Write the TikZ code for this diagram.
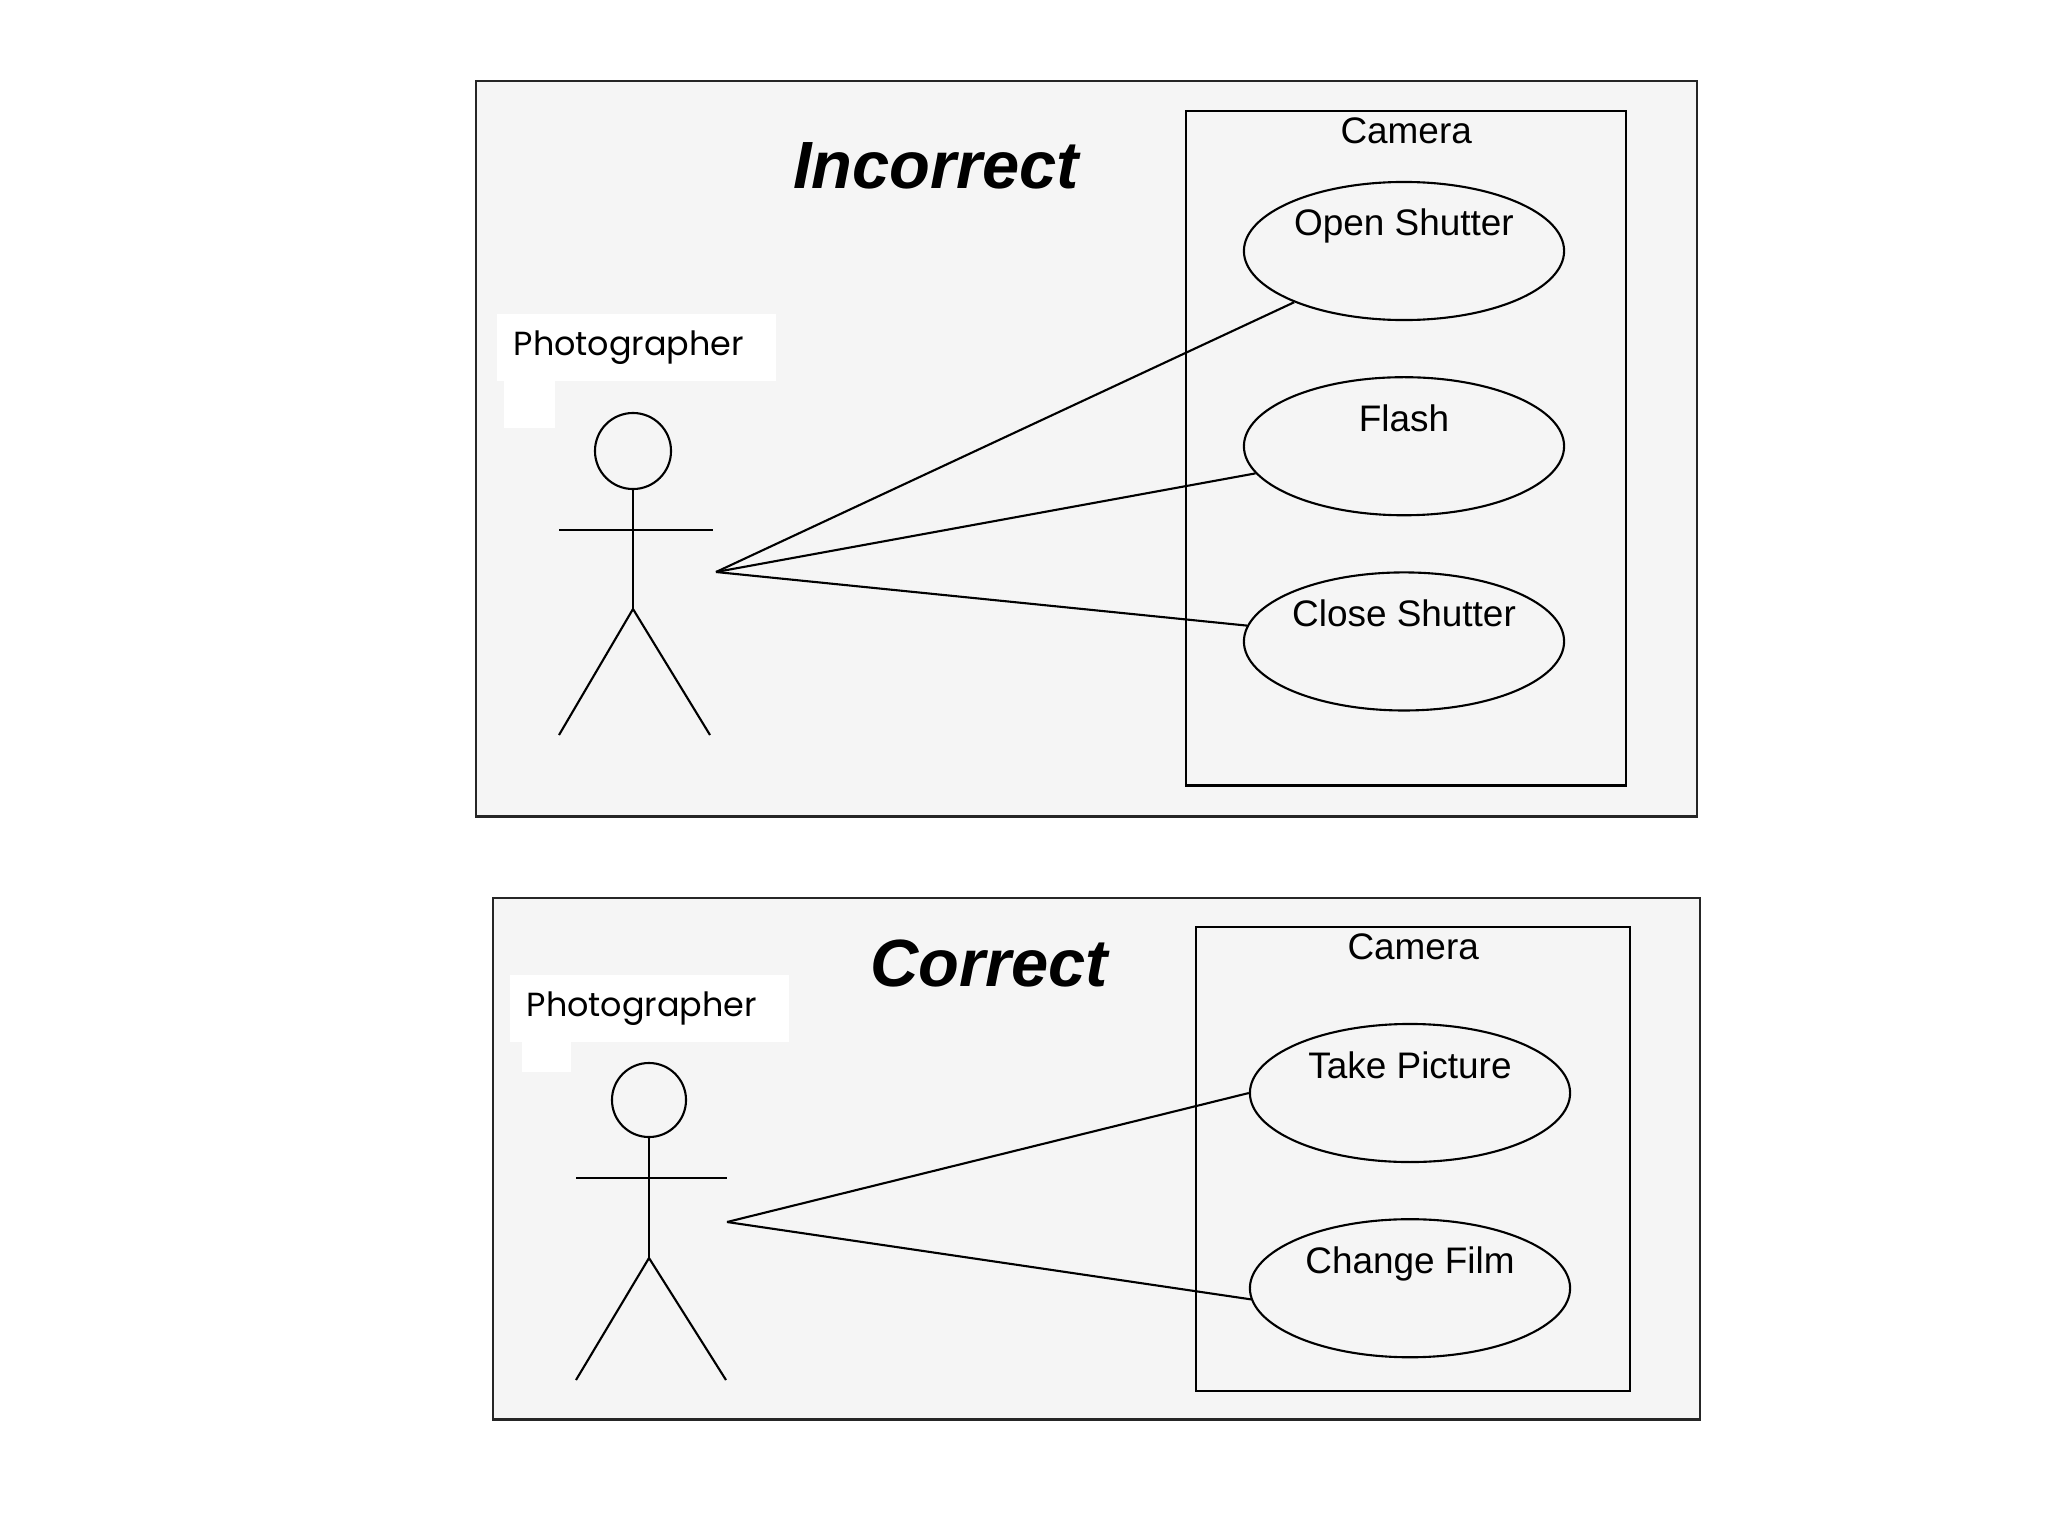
\documentclass[tikz,border=0pt]{standalone}
\usepackage{fontspec}
\setmainfont{Liberation Sans}
\newfontfamily\actorfont{Poppins}
\usetikzlibrary{positioning, shapes.geometric}

\begin{document}
\begin{tikzpicture}[
        x=0.01cm, y=-0.01cm,
        panel/.style={draw=black!85, line width=0.7pt, fill=black!4, anchor=north west, inner sep=0pt},
        system/.style={draw, line width=0.6pt, anchor=north west, inner sep=0pt},
        usecase/.style={ellipse, draw, line width=0.6pt, minimum width=3.2cm, minimum height=1.38cm,
            inner sep=0pt, text height=0.3cm, text depth=0.6cm, font=\fontsize{10.5}{12}\selectfont},
        syslabel/.style={inner sep=1pt, font=\fontsize{10.5}{12}\selectfont},
        title/.style={font=\fontsize{19}{22}\selectfont\bfseries\itshape},
        actorname/.style={fill=white, anchor=north west, minimum height=0.67cm, inner xsep=0.17cm,
            text width=2.45cm, align=left, font=\actorfont\fontsize{9.5}{11}\selectfont},
        stick/.style={line width=0.6pt},
        assoc/.style={line width=0.6pt},
        node distance=0.55cm,
    ]
        \useasboundingbox (0,0) rectangle (2048,1536);

        % Incorrect
        \node (panel1) [panel, minimum width=12.2cm, minimum height=7.35cm] at (475,80) {};
        \node (title1) [title] at (936,166) {Incorrect};
        \node (cam1) [system, minimum width=4.4cm, minimum height=6.74cm] at (1185,110) {};
        \node (camlabel1) [syslabel, below=0.03cm of cam1.north] {Camera};
        \node (open) [usecase] at (1404,251) {Open Shutter};
        \node (flash) [usecase, below=of open] {Flash};
        \node (close) [usecase, below=of flash] {Close Shutter};

        \node (name1) [actorname] at (496,313) {Photographer};
        \fill[white] (504,381) rectangle (555,428);
        \node (head1) [circle, draw, stick, minimum size=0.76cm, inner sep=0pt] at (633,451) {};
        \draw[stick] (head1.south) -- (633,609) coordinate (hip1);
        \draw[stick] (559,530) -- (713,530);
        \draw[stick] (559,735) -- (hip1) -- (710,735);
        \coordinate (hand1) at (716,572);

        \draw[assoc] (hand1) -- (open);
        \draw[assoc] (hand1) -- (flash);
        \draw[assoc] (hand1) -- (close);

        % Correct
        \node (panel2) [panel, minimum width=12.06cm, minimum height=5.21cm] at (492,897) {};
        \node (title2) [title] at (989,963) {Correct};
        \node (cam2) [system, minimum width=4.34cm, minimum height=4.64cm] at (1195,926) {};
        \node (camlabel2) [syslabel, below=0.03cm of cam2.north] {Camera};
        \node (take) [usecase] at (1410,1093) {Take Picture};
        \node (change) [usecase, below=of take] {Change Film};

        \node (name2) [actorname] at (509,974) {Photographer};
        \fill[white] (522,1042) rectangle (571,1072);
        \node (head2) [circle, draw, stick, minimum size=0.74cm, inner sep=0pt] at (649,1100) {};
        \draw[stick] (head2.south) -- (649,1258) coordinate (hip2);
        \draw[stick] (576,1178) -- (727,1178);
        \draw[stick] (576,1380) -- (hip2) -- (726,1380);
        \coordinate (hand2) at (727,1222);

        \draw[assoc] (hand2) -- (take.west);
        \draw[assoc] (hand2) -- (change.184);
    \end{tikzpicture}
\end{document}
